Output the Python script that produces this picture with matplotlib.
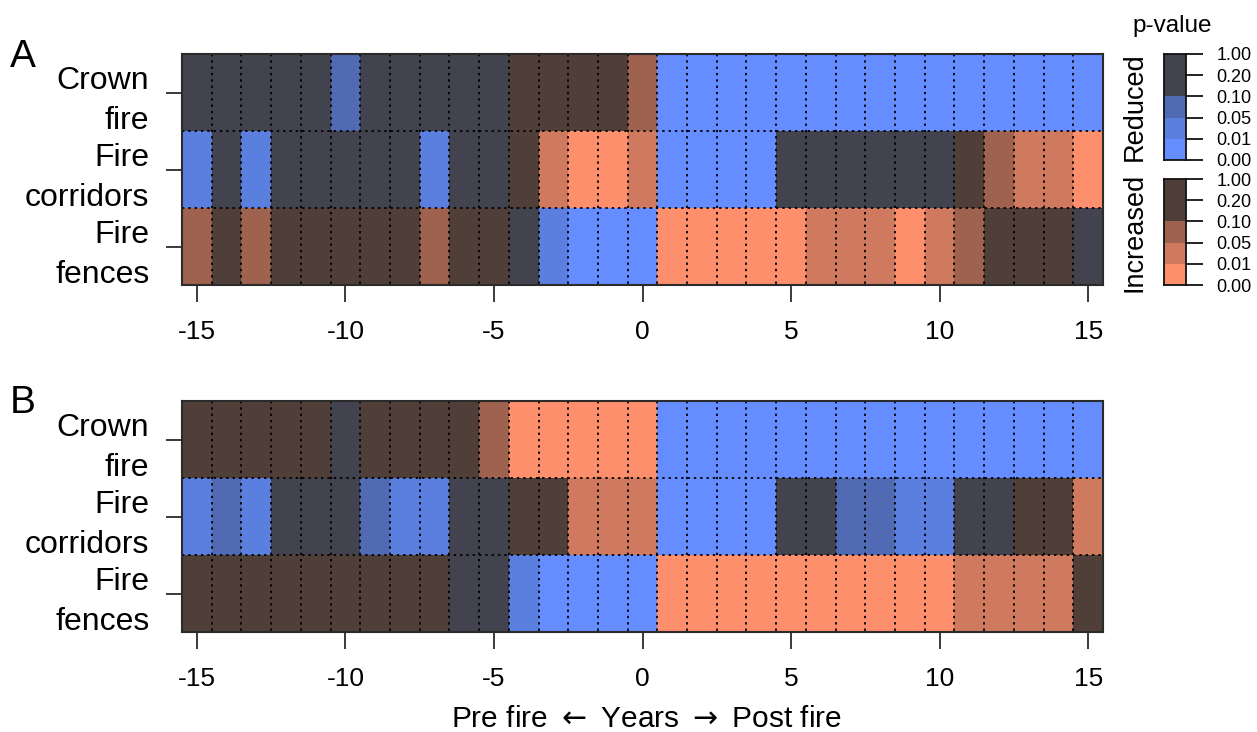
import matplotlib
matplotlib.use("Agg")
import matplotlib.pyplot as plt
import numpy as np
from matplotlib.colors import ListedColormap, BoundaryNorm

plt.rcParams['font.family'] = ['Liberation Sans', 'DejaVu Sans']
plt.rcParams['mathtext.fontset'] = 'dejavusans'

# ---------------- data ----------------
years = list(range(-15, 16))
row_labels = ["Crown\nfire", "Fire\ncorridors", "Fire\nfences"]
xtick_years = [-15, -10, -5, 0, 5, 10, 15]

# category codes: R = reduced, I = increased
# level 1: p<0.01, 2: 0.01-0.05, 3: 0.05-0.10, 4: p>0.10
A_crown = ["R4", "R4", "R4", "R4", "R4", "R3", "R4", "R4", "R4", "R4", "R4",
           "I4", "I4", "I4", "I4", "I3",
           "R1", "R1", "R1", "R1", "R1", "R1", "R1", "R1", "R1", "R1",
           "R1", "R1", "R1", "R1", "R1"]
A_corridors = ["R2", "R4", "R2", "R4", "R4", "R4", "R4", "R4", "R2", "R4", "R4",
               "I4", "I2", "I1", "I1", "I2",
               "R1", "R1", "R1", "R1", "R4", "R4", "R4", "R4", "R4", "R4",
               "I4", "I3", "I2", "I2", "I1"]
A_fences = ["I3", "I4", "I3", "I4", "I4", "I4", "I4", "I4", "I3", "I4", "I4",
            "R4", "R2", "R1", "R1", "R1",
            "I1", "I1", "I1", "I1", "I1", "I2", "I2", "I2", "I1", "I2",
            "I3", "I4", "I4", "I4", "R4"]

B_crown = ["I4", "I4", "I4", "I4", "I4", "R4", "I4", "I4", "I4", "I4", "I3",
           "I1", "I1", "I1", "I1", "I1",
           "R1", "R1", "R1", "R1", "R1", "R1", "R1", "R1", "R1", "R1",
           "R1", "R1", "R1", "R1", "R1"]
B_corridors = ["R2", "R3", "R2", "R4", "R4", "R4", "R3", "R2", "R2", "R4", "R4",
               "I4", "I4", "I2", "I2", "I2",
               "R1", "R1", "R1", "R1", "R4", "R4", "R3", "R3", "R2", "R2",
               "R4", "R4", "I4", "I4", "I2"]
B_fences = ["I4", "I4", "I4", "I4", "I4", "I4", "I4", "I4", "I4", "R4", "R4",
            "R2", "R1", "R1", "R1", "R1",
            "I1", "I1", "I1", "I1", "I1", "I1", "I1", "I1", "I1", "I1",
            "I2", "I2", "I2", "I2", "I4"]

legend_tick_labels = ["0.00", "0.01", "0.05", "0.10", "0.20", "1.00"]

# ---------------- styling ----------------
codes = ["R1", "R2", "R3", "R4", "I1", "I2", "I3", "I4"]
code_colors = {
    "R1": "#668dff", "R2": "#5b7fdf", "R3": "#506ab4", "R4": "#42434f",
    "I1": "#fe8f6c", "I2": "#cf7a5e", "I3": "#9e624e", "I4": "#4f3f38",
}
cmap = ListedColormap([code_colors[c] for c in codes])
norm = BoundaryNorm(np.arange(len(codes) + 1) - 0.5, len(codes))

W, H = 1257, 732
fig = plt.figure(figsize=(W / 100, H / 100), dpi=100)


def fx(px):
    return px / W


def fy(py):
    return 1 - py / H


def panel(rect_px, rows, letter, letter_y):
    x0, y0, x1, y1 = rect_px
    ax = fig.add_axes([fx(x0), fy(y1), fx(x1) - fx(x0), fy(y0) - fy(y1)])
    grid = np.array([[codes.index(c) for c in r] for r in rows])
    xe = np.array(years + [years[-1] + 1]) - 0.5
    ye = np.arange(len(rows) + 1)
    ax.pcolormesh(xe, ye, grid, cmap=cmap, norm=norm, shading='flat')
    ax.set_xlim(xe[0], xe[-1])
    ax.set_ylim(len(rows), 0)
    ax.vlines(xe[1:-1], 0, len(rows), colors='black', linestyles=(0, (1.3, 2.2)), lw=1.3)
    ax.hlines(ye[1:-1], xe[0], xe[-1], colors='black', linestyles=(0, (1.3, 2.2)), lw=1.3)
    for s in ax.spines.values():
        s.set_color('#2b2b2b')
        s.set_linewidth(1.5)
    ax.set_xticks(xtick_years)
    ax.set_xticklabels([str(v) for v in xtick_years], fontsize=19)
    ax.set_yticks(np.arange(len(rows)) + 0.5)
    ax.set_yticklabels(row_labels, fontsize=23, linespacing=1.42, ha='right')
    ax.tick_params(axis='x', length=12, width=1.3, pad=13, color='#2b2b2b')
    ax.tick_params(axis='y', length=11.5, width=1.3, pad=12, color='#2b2b2b')
    fig.text(fx(10), fy(letter_y), letter, fontsize=28, ha='left', va='baseline')
    return ax


axA = panel((182, 54, 1103, 285), [A_crown, A_corridors, A_fences], "A", 67)
axB = panel((182, 401, 1103, 632), [B_crown, B_corridors, B_fences], "B", 413)

fig.text(fx(647), fy(727), r"Pre fire $\leftarrow$ Years $\rightarrow$ Post fire",
         fontsize=21.5, ha='center', va='baseline')


def legend_bar(y0, y1, cols, label):
    ax = fig.add_axes([fx(1164), fy(y1), fx(1186) - fx(1164), fy(y0) - fy(y1)])
    vals = np.array([[codes.index(c)] for c in cols])
    ax.pcolormesh([0, 1], np.arange(len(cols) + 1), vals, cmap=cmap, norm=norm)
    ax.set_xlim(0, 1)
    ax.set_ylim(0, len(cols))
    ax.set_xticks([])
    ax.yaxis.tick_right()
    ax.set_yticks(np.arange(len(cols) + 1))
    ax.set_yticklabels(legend_tick_labels, fontsize=13)
    ax.tick_params(axis='y', length=12, width=1.3, pad=10, color='#111111')
    for s in ax.spines.values():
        s.set_color('#111111')
        s.set_linewidth(1.3)
    fig.text(fx(1135), (fy(y0) + fy(y1)) / 2, label, rotation=90,
             fontsize=19.5, ha='center', va='center')
    return ax


legend_bar(54, 160, ["R1", "R2", "R3", "R4", "R4"], "Reduced")
legend_bar(179, 285, ["I1", "I2", "I3", "I4", "I4"], "Increased")
fig.text(fx(1172), fy(32), "p-value", fontsize=17.5, ha='center', va='baseline')

fig.savefig("out.png", dpi=100)
